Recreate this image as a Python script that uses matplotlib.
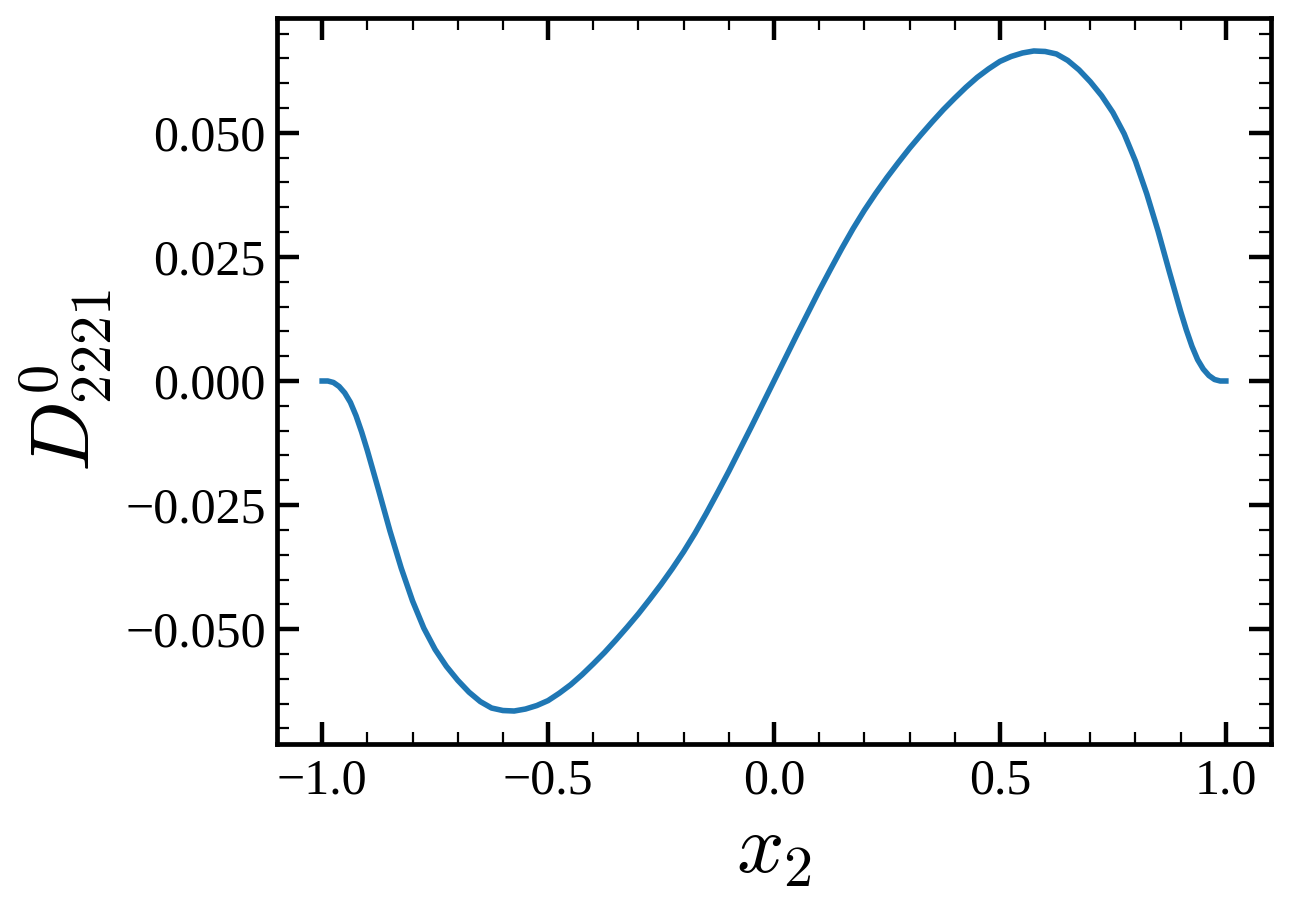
import matplotlib
matplotlib.use("Agg")
import matplotlib.pyplot as plt
from matplotlib.ticker import AutoMinorLocator

# curve (finer steps near the flat ends)
x2 = [-1.0000, -0.9875, -0.9750, -0.9625, -0.9500, -0.9375, -0.9250, -0.9125,
      -0.9000, -0.8875, -0.8750, -0.8625, -0.8500,
      -0.825, -0.800, -0.775, -0.750, -0.725, -0.700, -0.675, -0.650, -0.625,
      -0.600, -0.575, -0.550, -0.525, -0.500, -0.475, -0.450, -0.425, -0.400,
      -0.375, -0.350, -0.325, -0.300, -0.275, -0.250, -0.225, -0.200, -0.175,
      -0.150, -0.125, -0.100, -0.075, -0.050, -0.025, 0.000, 0.025, 0.050,
      0.075, 0.100, 0.125, 0.150, 0.175, 0.200, 0.225, 0.250, 0.275, 0.300,
      0.325, 0.350, 0.375, 0.400, 0.425, 0.450, 0.475, 0.500, 0.525, 0.550,
      0.575, 0.600, 0.625, 0.650, 0.675, 0.700, 0.725, 0.750, 0.775, 0.800,
      0.825,
      0.8500, 0.8625, 0.8750, 0.8875, 0.9000, 0.9125, 0.9250, 0.9375,
      0.9500, 0.9625, 0.9750, 0.9875, 1.0000]

D2221 = [0.0000, -0.0000, -0.0003, -0.0011, -0.0024, -0.0043, -0.0070, -0.0103,
         -0.0140, -0.0180, -0.0220, -0.0261, -0.0302,
         -0.0377, -0.0443, -0.0498, -0.0541, -0.0575, -0.0603, -0.0627, -0.0646, -0.0659,
         -0.0664, -0.0665, -0.0661, -0.0654, -0.0644, -0.0629, -0.0612, -0.0592, -0.0570,
         -0.0547, -0.0522, -0.0496, -0.0469, -0.0440, -0.0410, -0.0378, -0.0344, -0.0307,
         -0.0267, -0.0225, -0.0182, -0.0137, -0.0092, -0.0046, 0.0000, 0.0046, 0.0092,
         0.0137, 0.0182, 0.0225, 0.0267, 0.0307, 0.0344, 0.0378, 0.0410, 0.0440, 0.0469,
         0.0496, 0.0522, 0.0547, 0.0570, 0.0592, 0.0612, 0.0629, 0.0644, 0.0654, 0.0661,
         0.0665, 0.0664, 0.0659, 0.0646, 0.0627, 0.0603, 0.0575, 0.0541, 0.0498, 0.0443,
         0.0377,
         0.0302, 0.0261, 0.0220, 0.0180, 0.0140, 0.0103, 0.0070, 0.0043,
         0.0024, 0.0011, 0.0003, 0.0000, 0.0000]

plt.rcParams['font.family'] = ['Liberation Serif', 'DejaVu Serif']
plt.rcParams['mathtext.fontset'] = 'cm'
plt.rcParams['axes.unicode_minus'] = True

fig = plt.figure(figsize=(6.45, 4.54), dpi=200)
ax = fig.add_axes([0.2147, 0.1806, 0.7706, 0.7996])

ax.plot(x2, D2221, color='#1f77b4', lw=2.0)

ax.set_xticks([-1.0, -0.5, 0.0, 0.5, 1.0])
ax.set_yticks([-0.050, -0.025, 0.000, 0.025, 0.050])
ax.xaxis.set_minor_locator(AutoMinorLocator(5))
ax.yaxis.set_minor_locator(AutoMinorLocator(5))

ax.tick_params(which='both', direction='in', top=True, right=True, labelsize=18)
ax.tick_params(which='major', length=8, width=1.6, pad=5)
ax.tick_params(axis='y', which='major', pad=4)
ax.tick_params(which='minor', length=4.2, width=0.8)
for sp in ax.spines.values():
    sp.set_linewidth(1.7)

ax.set_xlabel(r'$x_2$', fontsize=30)
ax.set_ylabel(r'$D^0_{2221}$', fontsize=30)

fig.savefig('out.png', dpi=200)
